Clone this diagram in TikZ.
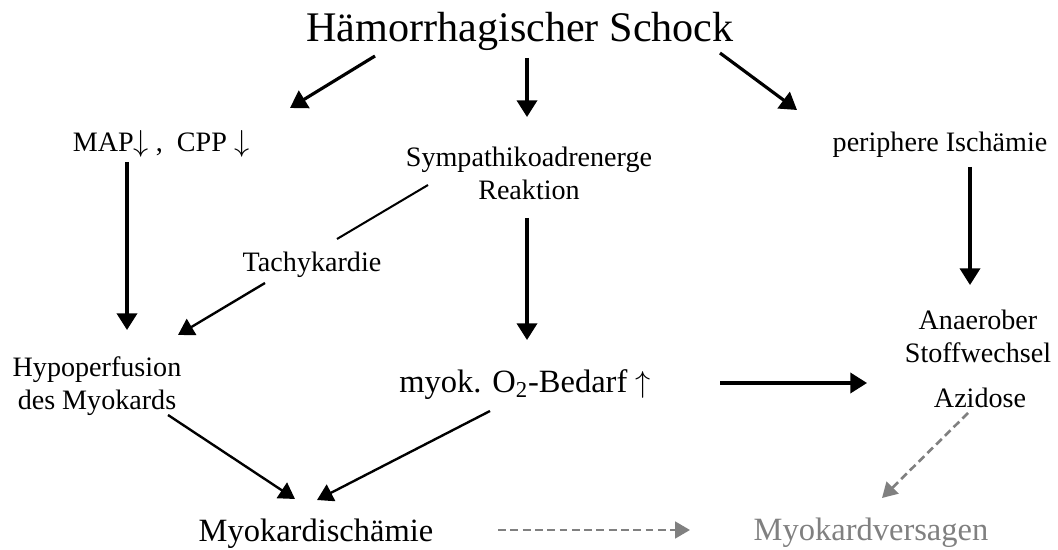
\documentclass[tikz,border=0pt]{standalone}
\usepackage{fontspec}
\setmainfont{Liberation Serif}
\usepackage{tikz}
\usetikzlibrary{arrows.meta, calc}

\begin{document}
\begin{tikzpicture}[
    x=0.02cm, y=-0.02cm,
    txt_klein/.style = {inner sep=0pt, anchor=base, align=center, font=\fontsize{16}{18.8}\selectfont},
    txt_gross/.style = {inner sep=0pt, anchor=base, align=center, font=\fontsize{18.5}{22}\selectfont},
    txt_titel/.style = {inner sep=0pt, anchor=base, font=\fontsize{24}{28}\selectfont},
    % Pfeile
    pfeil_dick/.style = {-{Triangle[length=9.5pt, width=11.5pt]}, line width=1.8pt},
    pfeil_duenn/.style = {-{Triangle[length=9pt, width=10.5pt]}, line width=1.35pt},
    linie/.style = {line width=1.15pt},
    pfeil_grau/.style = {-{Triangle[length=8.5pt, width=9.5pt]}, line width=1.5pt, draw=gray, dash pattern=on 4.5pt off 2.5pt}
]
\useasboundingbox (0,0) rectangle (1058,550);

% --- Oben: Ausloeser ---
\node[txt_titel] (schock) at (520,42) {Hämorrhagischer Schock};

% --- Zweite Ebene ---
\node[txt_klein] (map) at (161,152) {MAP$\downarrow$ ,\ \ CPP $\downarrow$};
\node[txt_klein] (sympath) at (529,200) {Sympathikoadrenerge\\Reaktion};
\node[txt_klein] (isch) at (940,152) {periphere Ischämie};

% --- Mitte ---
\node[txt_klein] (tachy) at (312,272) {Tachykardie};
\node[txt_klein] (hypo) at (97,410) {Hypoperfusion\\des Myokards};
\node[txt_gross] (bedarf) at (525,393) {myok. O\textsubscript{2}-Bedarf $\uparrow$};
\node[txt_klein] (anaerob) at (978,363) {Anaerober\\Stoffwechsel};
\node[txt_klein] (azid) at (980,407) {Azidose};

% --- Unten: Folgen ---
\node[txt_gross] (ischaemie) at (316,541) {Myokardischämie};
\node[txt_gross, text=gray] (versagen) at (871,540) {Myokardversagen};

% --- Pfeile vom Schock ---
\draw[pfeil_dick] ($(schock.base)+(-145,14)$) -- ($(map.base)+(129,-44)$);
\draw[pfeil_dick] ($(schock.base)+(7,16)$) -- ($(sympath.base)+(-2,-83)$);
\draw[pfeil_dick] ($(schock.base)+(200,11)$) -- ($(isch.base)+(-143,-42)$);

% --- Linke und mittlere Spalte ---
\draw[pfeil_dick] ($(map.base)+(-34,10)$) -- ($(hypo.base)+(30,-80)$);
\draw[linie] ($(sympath.base)+(-101,-15)$) -- ($(tachy.base)+(25,-33)$);
\draw[pfeil_duenn] ($(tachy.base)+(-47,11)$) -- ($(hypo.base)+(81,-75)$);
\draw[pfeil_dick] ($(sympath.base)+(-2,18)$) -- ($(bedarf.base)+(2,-53)$);

% --- Rechte Spalte ---
\draw[pfeil_dick] ($(isch.base)+(30,15)$) -- ($(anaerob.base)+(-8,-78)$);
\draw[pfeil_dick] ($(bedarf.base)+(195,-10)$) -- ($(anaerob.base)+(-111,20)$);

% --- Zur Myokardischaemie ---
\draw[pfeil_duenn] ($(hypo.base)+(71,5)$) -- ($(ischaemie.base)+(-21,-42)$);
\draw[pfeil_duenn] ($(bedarf.base)+(-35,18)$) -- ($(ischaemie.base)+(1,-41)$);

% --- Gestrichelt: Versagen ---
\draw[pfeil_grau] ($(ischaemie.base)+(182,-11)$) -- ($(versagen.base)+(-181,-10)$);
\draw[pfeil_grau] ($(azid.base)+(-12,6)$) -- ($(versagen.base)+(11,-42)$);

\end{tikzpicture}
\end{document}
